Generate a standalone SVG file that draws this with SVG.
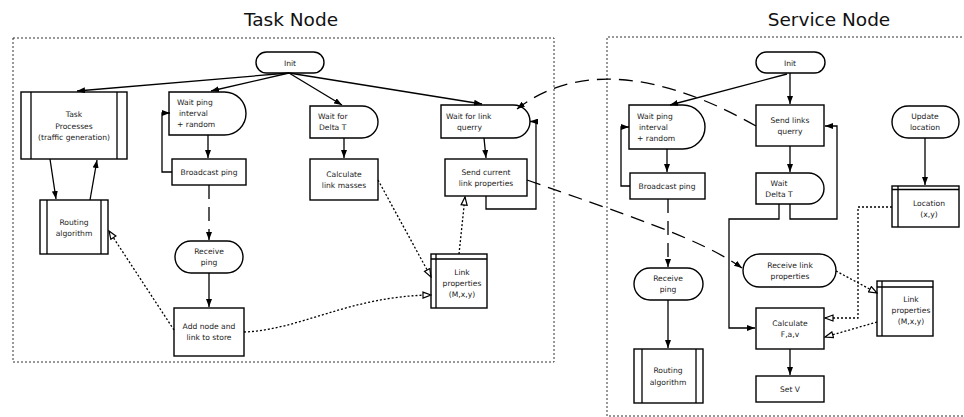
<svg xmlns="http://www.w3.org/2000/svg" width="964" height="417" viewBox="0 0 964 417">
<style>
.s{fill:#fff;stroke:#000;stroke-width:1.4}
.t{font-family:"DejaVu Sans",sans-serif;font-size:7.6px;fill:#222}
.m{text-anchor:middle}
.h{font-family:"DejaVu Sans",sans-serif;font-size:18.5px;fill:#111;text-anchor:middle}
.c{fill:none;stroke:#000;stroke-width:1.3}
.a{marker-end:url(#fa)}
.d{stroke-dasharray:2,2}
.ld{stroke-dasharray:14,8}
.ho{marker-end:url(#ha)}
.box{fill:none;stroke:#333;stroke-width:1;stroke-dasharray:2,2}
</style>
<defs>
<marker id="fa" markerWidth="8" markerHeight="6" refX="8" refY="3" orient="auto" markerUnits="userSpaceOnUse"><path d="M0,0 L8,3 L0,6 z" fill="#000"/></marker>
<marker id="ha" markerWidth="10" markerHeight="8" refX="9" refY="4" orient="auto" markerUnits="userSpaceOnUse"><path d="M1,1 L9,4 L1,7 z" fill="#fff" stroke="#000" stroke-width="1.2"/></marker>
</defs>
<rect width="964" height="417" fill="#fff"/>
<text class="h" x="291" y="26">Task Node</text>
<text class="h" x="829" y="26">Service Node</text>
<rect class="box" x="13" y="38" width="541" height="324"/>
<path class="box" d="M970,37 H607 V416 H970"/>

<g id="t-init"><rect class="s" x="256" y="52" width="68" height="21" rx="10.5"/><text class="t m" x="290" y="66">Init</text></g>
<g id="t-task"><rect class="s" x="21" y="92" width="106" height="67"/><path class="c" d="M31,92 V159 M117,92 V159"/><text class="t m" x="74" y="117">Task</text><text class="t m" x="74" y="128.5">Processes</text><text class="t m" x="74" y="140">(traffic generation)</text></g>
<g id="t-waitping"><path class="s" d="M169,92 H224.5 A21.5,21.5 0 0 1 224.5,135 H169 Z"/><text class="t" x="177" y="105">Wait ping</text><text class="t" x="179" y="116">interval</text><text class="t" x="177" y="127">+ random</text></g>
<g id="t-bcast"><rect class="s" x="172" y="159" width="74" height="26"/><text class="t m" x="209" y="175">Broadcast ping</text></g>
<g id="t-waitdelta"><path class="s" d="M310,106 H362 A16,16 0 0 1 362,138 H310 Z"/><text class="t" x="318" y="119">Wait for</text><text class="t" x="319" y="130">Delta T</text></g>
<g id="t-calc"><rect class="s" x="310" y="159" width="68" height="41"/><text class="t m" x="344" y="177">Calculate</text><text class="t m" x="344" y="188">link masses</text></g>
<g id="t-waitlink"><path class="s" d="M441,105 H513.5 A16.5,16.5 0 0 1 513.5,138 H441 Z"/><text class="t" x="446" y="119">Wait for link</text><text class="t" x="457" y="130">querry</text></g>
<g id="t-send"><rect class="s" x="445" y="159" width="82" height="37"/><text class="t m" x="486" y="175">Send current</text><text class="t m" x="486" y="186">link properties</text></g>
<g id="t-routing"><rect class="s" x="40" y="200" width="68" height="54"/><path class="c" d="M47,200 V254 M101,200 V254"/><text class="t m" x="74" y="225">Routing</text><text class="t m" x="74" y="236">algorithm</text></g>
<g id="t-recv"><rect class="s" x="175" y="241" width="68" height="32" rx="16"/><text class="t m" x="209" y="254">Receive</text><text class="t m" x="209" y="265">ping</text></g>
<g id="t-add"><rect class="s" x="174" y="308" width="70" height="48"/><text class="t m" x="209" y="329">Add node and</text><text class="t m" x="209" y="340">link to store</text></g>
<g id="t-linkprops"><rect class="s" x="431" y="254" width="56" height="54"/><path class="c" d="M436,254 V308 M431,259 H487"/><text class="t m" x="462" y="275">Link</text><text class="t m" x="462" y="286">properties</text><text class="t m" x="462" y="297">(M,x,y)</text></g>

<g id="s-init"><rect class="s" x="756" y="52" width="69" height="21" rx="10.5"/><text class="t m" x="790" y="66">Init</text></g>
<g id="s-waitping"><path class="s" d="M629,105 H683 A22,22 0 0 1 683,149 H629 Z"/><text class="t" x="637" y="119">Wait ping</text><text class="t" x="639" y="130">interval</text><text class="t" x="637" y="141">+ random</text></g>
<g id="s-bcast"><rect class="s" x="630" y="173" width="75" height="26"/><text class="t m" x="667" y="189">Broadcast ping</text></g>
<g id="s-sendq"><rect class="s" x="756" y="105" width="68" height="41"/><text class="t m" x="790" y="123">Send links</text><text class="t m" x="790" y="134">querry</text></g>
<g id="s-waitdelta"><path class="s" d="M756,173 H808.5 A15.5,15.5 0 0 1 808.5,204 H756 Z"/><text class="t m" x="779" y="186">Wait</text><text class="t m" x="779" y="197">Delta T</text></g>
<g id="s-update"><rect class="s" x="892" y="106" width="67" height="32" rx="16"/><text class="t m" x="925" y="119">Update</text><text class="t m" x="925" y="130">location</text></g>
<g id="s-location"><rect class="s" x="892" y="186" width="67" height="41"/><path class="c" d="M898,186 V227 M892,189.5 H959"/><text class="t m" x="929" y="206">Location</text><text class="t m" x="929" y="217">(x,y)</text></g>
<g id="s-recv"><rect class="s" x="634" y="268" width="69" height="32" rx="16"/><text class="t m" x="668" y="281">Receive</text><text class="t m" x="668" y="292">ping</text></g>
<g id="s-routing"><rect class="s" x="634" y="349" width="69" height="54"/><path class="c" d="M642,349 V403 M696,349 V403"/><text class="t m" x="668" y="373">Routing</text><text class="t m" x="668" y="385">algorithm</text></g>
<g id="s-recvlink"><rect class="s" x="743" y="254" width="93" height="33" rx="16.5"/><text class="t m" x="790" y="268">Receive link</text><text class="t m" x="790" y="279">properties</text></g>
<g id="s-calc"><rect class="s" x="756" y="308" width="68" height="41"/><text class="t m" x="790" y="326">Calculate</text><text class="t m" x="790" y="337">F,a,v</text></g>
<g id="s-setv"><rect class="s" x="756" y="376" width="68" height="26"/><text class="t m" x="790" y="392">Set V</text></g>
<g id="s-linkprops"><rect class="s" x="877" y="281" width="56" height="55"/><path class="c" d="M882,281 V336 M877,287 H933"/><text class="t m" x="911" y="302">Link</text><text class="t m" x="911" y="313">properties</text><text class="t m" x="911" y="324">(M,x,y)</text></g>

<g id="connectors">
<path class="c a" d="M289,73 L77,91"/>
<path class="c a" d="M289,73 L211,91"/>
<path class="c a" d="M289,73 L342,105"/>
<path class="c a" d="M289,73 L482,104"/>
<path class="c a" d="M50,159 L56,199"/>
<path class="c a" d="M90,200 L97,160"/>
<path class="c a" d="M208,135 L208,158"/>
<path class="c a" d="M172,172 H162 V113 H170"/>
<path class="c a ld" d="M209,185 V240"/>
<path class="c a" d="M209,273 V307"/>
<path class="c a" d="M344,138 V158"/>
<path class="c a" d="M484,138 L486,158"/>
<path class="c a" d="M486,196 V209 H536 V121.5 H530"/>
<path class="c d ho" d="M378,180 L431,277"/>
<path class="c d ho" d="M459,254 L465,197"/>
<path class="c d ho" d="M244,332 C300,330 350,296 431,295"/>
<path class="c d ho" d="M174,330 L109,231"/>
<path class="c a" d="M787,74 L670,105"/>
<path class="c a" d="M790,73 V104"/>
<path class="c a" d="M667,149 V172"/>
<path class="c a" d="M630,186 H621 V127 H629"/>
<path class="c a ld" d="M668,199 V267"/>
<path class="c a" d="M668,300 V348"/>
<path class="c a" d="M790,146 V172"/>
<path class="c a" d="M779,204 V219 H729 V328 H755"/>
<path class="c a" d="M790,204 V219 H837 V126 H825"/>
<path class="c a" d="M790,349 V375"/>
<path class="c a" d="M925,138 V185"/>
<path class="c d ho" d="M892,207 H858 V318 H825"/>
<path class="c d ho" d="M877,322 L825,337"/>
<path class="c d ho" d="M836,271 L877,293"/>
<path class="c a ld" d="M756,126 C710,100 600,45 517,109"/>
<path class="c a ld" d="M527,180 C620,213 700,238 742,268"/>
</g>
</svg>
